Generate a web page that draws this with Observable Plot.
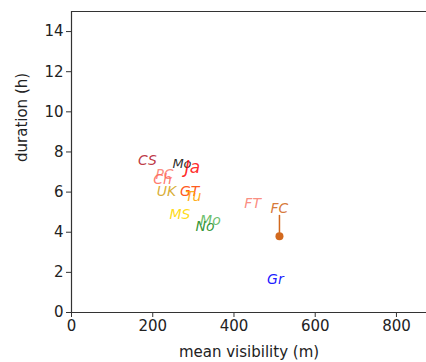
<!DOCTYPE html>
<html>
<head>
<meta charset="utf-8">
<script src="https://cdn.jsdelivr.net/npm/d3@7"></script>
<script src="https://cdn.jsdelivr.net/npm/@observablehq/plot@0.6"></script>
<style>
  html, body { margin: 0; padding: 0; background: #fff; overflow: hidden; }
  #chart { width: 426px; height: 362px; overflow: hidden; }
</style>
</head>
<body>
<div id="chart"></div>
<script>
// Label names, mean visibility (m), duration (h), colours
const names    = ["CS", "Mo", "Ja", "PC", "Ch", "UK", "GT", "Tu", "FT", "FC", "MS", "Mo", "No", "Gr"];
const meanVis  = [187, 272, 298, 229, 224, 234, 291, 300, 446, 512, 267, 342, 329, 502];
const duration = [7.55, 7.42, 7.22, 6.9, 6.63, 6.03, 6.05, 5.78, 5.43, 3.8, 4.88, 4.58, 4.28, 1.64];
// annotation text position (data coords) where it differs from the point
const labelDur = [7.55, 7.42, 7.22, 6.9, 6.63, 6.03, 6.05, 5.78, 5.43, 5.18, 4.88, 4.58, 4.28, 1.64];
const colors   = ["#b5222e", "#111111", "#ff1010", "#fa8072", "#ff6a5a", "#d4a520", "#ff4500", "#ffa500",
                  "#fa8072", "#d2691e", "#ffd700", "#5cb85c", "#228b22", "#0000ff"];
const sizes    = [14, 13, 17, 14, 14, 14, 14, 14, 14, 14, 14, 14, 14, 14];
const marked   = ["FC"];

const xTicks = [0, 200, 400, 600, 800];
const yTicks = [0, 2, 4, 6, 8, 10, 12, 14];

const data = names.map((n, i) => ({
  name: n, vis: meanVis[i], dur: duration[i], ly: labelDur[i], color: colors[i], size: sizes[i]
}));
const pts = data.filter(d => marked.includes(d.name));

const chart = Plot.plot({
  width: 426,
  height: 362,
  marginLeft: 71,
  marginRight: 0,
  marginTop: 11,
  marginBottom: 50,
  style: { fontFamily: "DejaVu Sans", background: "#fff", color: "#222" },
  x: { domain: [0, 874] },
  y: { domain: [0, 15] },
  marks: [
    Plot.axisX({ ticks: xTicks, tickSize: 5, tickPadding: 3, fontSize: 15, label: null, stroke: "#333" }),
    Plot.axisY({ ticks: yTicks, tickSize: 5, tickPadding: 3, fontSize: 15, label: null, stroke: "#333" }),
    Plot.ruleX([0], { stroke: "#333", strokeWidth: 1.2 }),
    Plot.ruleY([0], { stroke: "#333", strokeWidth: 1.2 }),
    Plot.ruleY([15], { stroke: "#333", strokeWidth: 1.2 }),
    Plot.arrow(pts, { x1: "vis", y1: "dur", x2: "vis", y2: "ly", stroke: "color", strokeWidth: 1.5,
                      headLength: 0, insetEnd: 7 }),
    Plot.dot(pts, { x: "vis", y: "dur", r: 4, fill: "color", stroke: "none" }),
    ...data.map(d => Plot.text([d], {
      x: "vis", y: "ly", text: "name", fill: d.color, fontSize: d.size,
      fontStyle: "italic", fontWeight: 500, fillOpacity: 0.9
    })),
    Plot.text(["mean visibility (m)"], { frameAnchor: "bottom", dy: 44, fontSize: 15, fill: "#222" }),
    Plot.text(["duration (h)"], { frameAnchor: "left", dx: -49, rotate: -90, fontSize: 15, fill: "#222" })
  ]
});
document.getElementById("chart").appendChild(chart);
</script>
</body>
</html>
